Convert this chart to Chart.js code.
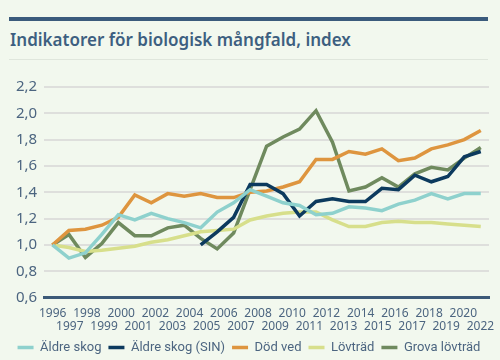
<!DOCTYPE html>
<html>
<head>
<meta charset="utf-8">
<script src="https://cdn.jsdelivr.net/npm/chart.js@4"></script>
<style>
  html, body { margin: 0; padding: 0; }
  body { width: 500px; height: 360px; background: #f2f8ee; position: relative; overflow: hidden; }
  .bar { position: absolute; left: 9px; top: 17px; width: 479px; height: 4px; background: #3b5b7c; }
  h1 { position: absolute; left: 10px; top: 28px; margin: 0; font: 600 17px "Noto Sans", sans-serif; color: #3d5f80; }
  .rule { position: absolute; left: 9px; top: 59px; width: 479px; height: 1px; background: #dfe6dc; }
  .wrap { position: absolute; left: 0; top: 66px; width: 500px; height: 298px; }
</style>
</head>
<body>
<div class="bar"></div>
<h1>Indikatorer för biologisk mångfald, index</h1>
<div class="rule"></div>
<div class="wrap"><canvas id="lineChart"></canvas></div>
<script>
// one point per year 1996-2022
let years = [];
for (let y = 1996; y <= 2022; y++) years.push(String(y));

// the axis in the original lists 26 labels (no 2021)
let axisLabels = [
  "1996", "1997", "1998", "1999", "2000", "2001", "2002", "2003", "2004",
  "2005", "2006", "2007", "2008", "2009", "2010", "2011", "2012", "2013",
  "2014", "2015", "2016", "2017", "2018", "2019", "2020", "2022"
];

let aldreSkog = [1.0, 0.90, 0.94, 1.08, 1.23, 1.19, 1.24, 1.20, 1.17, 1.13, 1.25, 1.32, 1.42, 1.37,
  1.32, 1.30, 1.23, 1.24, 1.29, 1.28, 1.26, 1.31, 1.34, 1.39, 1.35, 1.39, 1.39];
let aldreSkogSIN = [null, null, null, null, null, null, null, null, null, 1.0, 1.10, 1.21, 1.46, 1.46,
  1.39, 1.22, 1.33, 1.35, 1.33, 1.33, 1.43, 1.42, 1.53, 1.48, 1.52, 1.67, 1.71];
let dodVed = [1.0, 1.11, 1.12, 1.15, 1.21, 1.38, 1.32, 1.39, 1.37, 1.39, 1.36, 1.36, 1.40, 1.41,
  1.44, 1.48, 1.65, 1.65, 1.71, 1.69, 1.73, 1.64, 1.66, 1.73, 1.76, 1.80, 1.87];
let lovtrad = [1.0, 0.98, 0.95, 0.96, 0.975, 0.99, 1.02, 1.04, 1.07, 1.10, 1.11, 1.12, 1.19, 1.22,
  1.24, 1.25, 1.25, 1.19, 1.14, 1.14, 1.17, 1.18, 1.17, 1.17, 1.16, 1.15, 1.14];
let grovaLovtrad = [1.0, 1.08, 0.905, 1.01, 1.17, 1.07, 1.07, 1.13, 1.15, 1.05, 0.97, 1.09, 1.42, 1.75,
  1.82, 1.88, 2.02, 1.78, 1.41, 1.44, 1.51, 1.44, 1.54, 1.59, 1.57, 1.66, 1.74];

let textColor = "#4c6580";

function series(label, data, color) {
  return {
    label: label,
    data: data,
    borderColor: color,
    backgroundColor: color,
    borderWidth: 3.5,
    pointRadius: 0,
    tension: 0,
    xAxisID: "x"
  };
}

let lineChartData = {
  labels: years,
  datasets: [
    series("Äldre skog", aldreSkog, "#8ed1cd"),
    series("Äldre skog (SIN)", aldreSkogSIN, "#0c3a5e"),
    series("Död ved", dodVed, "#de953f"),
    series("Lövträd", lovtrad, "#d7df8b"),
    series("Grova lövträd", grovaLovtrad, "#6f8a5e")
  ]
};

let chartOptions = {
  responsive: true,
  maintainAspectRatio: false,
  animation: false,
  layout: { padding: { left: 9, right: 11, top: 21, bottom: 0 } },
  plugins: {
    title: { display: false },
    tooltip: { enabled: false },
    legend: {
      display: true,
      position: "bottom",
      labels: {
        usePointStyle: true,
        pointStyle: "line",
        pointStyleWidth: 16,
        color: textColor,
        padding: 7,
        font: { family: "Roboto", size: 13 }
      }
    }
  },
  scales: {
    x: {
      display: false,
      offset: true
    },
    x2: {
      type: "category",
      position: "bottom",
      labels: axisLabels.map((l, i) => i % 2 === 0 ? [l, ""] : ["", l]),
      offset: true,
      grid: { display: false },
      border: { display: true, color: "#3c5a78", width: 3 },
      ticks: {
        color: textColor,
        autoSkip: false,
        maxRotation: 0,
        padding: 1,
        font: { family: "'Noto Sans'", size: 12, lineHeight: 1.1 }
      }
    },
    y: {
      min: 0.6,
      max: 2.2,
      grid: { color: "#dedfdc", lineWidth: 2, drawTicks: false },
      border: { display: false },
      ticks: {
        stepSize: 0.2,
        padding: 7,
        color: textColor,
        font: { family: "'Noto Sans'", size: 15 },
        callback: v => v.toFixed(1).replace(".", ",")
      }
    }
  }
};

window.onload = function() {
  let ctx = document.getElementById("lineChart").getContext("2d");
  window.myLine = new Chart(ctx, {
    type: "line",
    data: lineChartData,
    options: chartOptions
  });
};
</script>
</body>
</html>
